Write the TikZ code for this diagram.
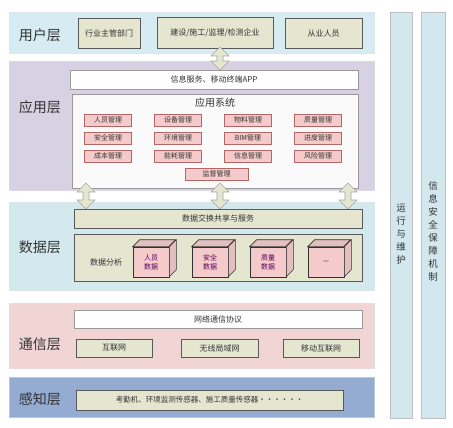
\documentclass[tikz,border=0pt]{standalone}
\usepackage{fontspec}
\setmainfont{Noto Sans CJK SC}
\usepackage{tikz}
\usetikzlibrary{shapes.arrows}

\definecolor{userbg}{HTML}{D6ECF2}
\definecolor{appbg}{HTML}{D8D0E3}
\definecolor{databg}{HTML}{D4E9EE}
\definecolor{commbg}{HTML}{F1D4D4}
\definecolor{sensebg}{HTML}{94ABD2}
\definecolor{tan}{HTML}{E4E6D0}
\definecolor{pinkbox}{HTML}{F4CACA}
\definecolor{pinkline}{HTML}{B26666}
\definecolor{ink}{HTML}{333333}
\definecolor{colbg}{HTML}{D3E8EE}

\tikzset{
  layer/.style={draw=#1!80!gray!60, fill=#1, line width=0.6pt},
  title/.style={font=\fontsize{14}{16}\selectfont, text=ink},
  tanbox/.style={draw=gray!70!black, fill=tan, line width=0.8pt, font=\fontsize{8}{9}\selectfont, text=ink},
  whitebox/.style={draw=gray!80, fill=white, line width=0.6pt, font=\fontsize{8}{9}\selectfont, text=ink},
  module/.style={draw=pinkline, fill=pinkbox, line width=0.6pt, minimum width=47, minimum height=12, inner sep=0pt, font=\fontsize{7}{8}\selectfont, text=ink},
  cube/.style={draw=gray!40!black, fill=pinkbox, line width=0.6pt, minimum width=36, minimum height=30, inner sep=0pt, align=center, font=\fontsize{7}{9}\selectfont, text=violet!70!black},
  cubeline/.style={draw=gray!40!black, fill=pinkbox!85!gray, line width=0.6pt},
  dblarrow/.style={shape=double arrow, rotate=90, draw=gray!70, fill=tan, line width=0.6pt, minimum width=18, double arrow head extend=4.5pt, inner sep=2pt},
  column/.style={draw=gray!50, fill=colbg, line width=0.8pt},
  vtext/.style={align=center, font=\fontsize{9.5}{13}\selectfont, text=ink}
}

\begin{document}
\begin{tikzpicture}[x=1pt,y=-1pt]
\fill[white] (0,0) rectangle (453,428);
\useasboundingbox (0,0) rectangle (453,428);

% layers
\node[layer=userbg, minimum width=365, minimum height=41] (user) at (191.5,32.5) {};
\node[layer=appbg, minimum width=365, minimum height=129] (app) at (191.5,125.5) {};
\node[layer=databg, minimum width=365, minimum height=88] (data) at (191.5,246) {};
\node[layer=commbg, minimum width=365, minimum height=65] (comm) at (191.5,335.5) {};
\node[layer=sensebg, minimum width=365, minimum height=40] (sense) at (191.5,397) {};

\node[title] (usert) at (40,35) {用户层};
\node[title] (appt) at (40,107) {应用层};
\node[title] (datat) at (40,247) {数据层};
\node[title] (commt) at (40,344) {通信层};
\node[title] (senset) at (40,399) {感知层};

% user layer
\node[tanbox, minimum width=62, minimum height=30] (dept) at (109,33) {行业主管部门};
\node[tanbox, minimum width=116, minimum height=31] (firm) at (215,32.5) {建设/施工/监理/检测企业};
\node[tanbox, minimum width=77, minimum height=30] (staff) at (323.5,33) {从业人员};

% app layer
\node[whitebox, minimum width=288, minimum height=19] (info) at (214,79.5) {信息服务、移动终端APP};
\node[whitebox, fill=gray!4, minimum width=286, minimum height=94] (sys) at (215,141) {};
\node[font=\fontsize{10}{11}\selectfont, text=ink] (syst) at (215,103) {应用系统};

\foreach \t [count=\i] in {人员管理,设备管理,物料管理,质量管理}
  \node[module] (m1\i) at ({108+(\i-1)*70},120) {\t};
\foreach \t [count=\i] in {安全管理,环境管理,BIM管理,进度管理}
  \node[module] (m2\i) at ({108+(\i-1)*70},138) {\t};
\foreach \t [count=\i] in {成本管理,能耗管理,信息管理,风险管理}
  \node[module] (m3\i) at ({108+(\i-1)*70},156) {\t};
\node[module, minimum width=63] (super) at (216.5,174) {监督管理};

% arrows between layers
\node[dblarrow, minimum height=23] (a0) at (220,58.5) {};
\node[dblarrow, minimum height=26] (a1) at (86,196) {};
\node[dblarrow, minimum height=26] (a2) at (220,196) {};
\node[dblarrow, minimum height=26] (a3) at (348,196) {};

% data layer
\node[tanbox, minimum width=288, minimum height=19] (share) at (218,218.5) {数据交换共享与服务};
\node[tanbox, line width=0.6pt, minimum width=288, minimum height=47] (anly) at (218,257.5) {};
\node[font=\fontsize{8}{9}\selectfont, text=ink] (anlyt) at (106,262) {数据分析};

\foreach \x/\t [count=\i] in {151/{人员\\数据},210/{安全\\数据},268/{质量\\数据},326/{—}} {
  \node[cube] (cube\i) at (\x,262) {\t};
  \draw[cubeline] (cube\i.north west) -- ++(7,-7) -- ++(36,0) -- ++(-7,7) -- cycle;
  \draw[cubeline] (cube\i.north east) -- ++(7,-7) -- ++(0,30) -- ++(-7,7) -- cycle;
}

% comm layer
\node[whitebox, minimum width=288, minimum height=18] (proto) at (218,319) {网络通信协议};
\node[tanbox, line width=0.6pt, minimum width=76, minimum height=18] (net) at (114,348) {互联网};
\node[tanbox, minimum width=77, minimum height=18] (wlan) at (219.5,348) {无线局域网};
\node[tanbox, line width=0.6pt, minimum width=76, minimum height=18] (mob) at (321,348) {移动互联网};

% sense layer
\node[tanbox, line width=0.6pt, minimum width=267, minimum height=20, font=\fontsize{7.5}{9}\selectfont] (dev) at (209.5,400) {考勤机、环境监测传感器、施工质量传感器・・・・・・};

% side columns
\node[column, minimum width=22, minimum height=406] (ops) at (401,215) {};
\node[column, minimum width=24, minimum height=406] (sec) at (433,215) {};
\node[vtext] (opst) at (401,234) {运\\行\\与\\维\\护};
\node[vtext] (sect) at (433,231) {信\\息\\安\\全\\保\\障\\机\\制};

\end{tikzpicture}
\end{document}
